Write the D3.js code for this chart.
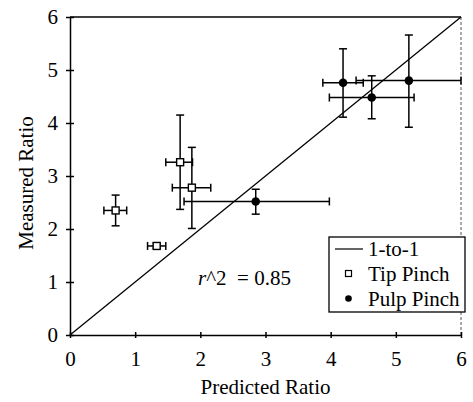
<!DOCTYPE html>
<html><head><meta charset="utf-8"><script src="https://cdn.jsdelivr.net/npm/d3@7"></script></head>
<body style="margin:0">
<script>
const width = 473, height = 402;
const margin = {top: 17, right: 12, bottom: 67, left: 70};
const serif = '"Liberation Serif"';

// tip pinch (open squares)
const tipX    = [0.70, 1.33, 1.69, 1.87];
const tipY    = [2.35, 1.68, 3.26, 2.78];
const tipXLo  = [0.52, 1.19, 1.47, 1.57];
const tipXHi  = [0.87, 1.47, 1.88, 2.16];
const tipYLo  = [2.06, 1.64, 2.37, 2.01];
const tipYHi  = [2.64, 1.73, 4.15, 3.54];

// pulp pinch (filled circles)
const pulpX   = [2.85, 4.19, 4.63, 5.20];
const pulpY   = [2.52, 4.76, 4.48, 4.80];
const pulpXLo = [1.75, 3.88, 3.98, 4.39];
const pulpXHi = [3.98, 4.50, 5.28, 6.00];
const pulpYLo = [2.28, 4.11, 4.08, 3.92];
const pulpYHi = [2.75, 5.40, 4.89, 5.66];

const ticks = [0, 1, 2, 3, 4, 5, 6];
const legendLabels = ["1-to-1", "Tip Pinch", "Pulp Pinch"];

const svg = d3.select("body").append("svg")
    .attr("width", width).attr("height", height)
    .style("font-family", serif);

const x = d3.scaleLinear().domain([0, 6]).range([margin.left, width - margin.right]);
const y = d3.scaleLinear().domain([0, 6]).range([height - margin.bottom, margin.top]);

// frame: top solid, right faint dashed
svg.append("line")
    .attr("x1", x(0)).attr("x2", x(6)).attr("y1", y(6)).attr("y2", y(6))
    .attr("stroke", "#000").attr("stroke-width", 1.5);
svg.append("line")
    .attr("x1", x(6)).attr("x2", x(6)).attr("y1", y(6)).attr("y2", y(0))
    .attr("stroke", "#555").attr("stroke-width", 1).attr("stroke-dasharray", "3,2");

// axes with crossing ticks
const xAxis = svg.append("g")
    .attr("transform", `translate(0,${y(0)})`)
    .call(d3.axisBottom(x).tickValues(ticks).tickSize(0).tickPadding(16).tickFormat(d3.format("d")))
    .attr("font-family", null).attr("font-size", null);
xAxis.select(".domain").attr("stroke-width", 1.5);
xAxis.selectAll(".tick").append("line").attr("y1", -3).attr("y2", 3).attr("stroke", "#000").attr("stroke-width", 1.5);

const yAxis = svg.append("g")
    .attr("transform", `translate(${x(0)},0)`)
    .call(d3.axisLeft(y).tickValues(ticks).tickSize(0).tickPadding(12).tickFormat(d3.format("d")))
    .attr("font-family", null).attr("font-size", null);
yAxis.select(".domain").attr("stroke-width", 1.5);
yAxis.selectAll(".tick").append("line").attr("x1", -4).attr("x2", 4).attr("stroke", "#000").attr("stroke-width", 1.5);

// axis titles
svg.append("text")
    .attr("x", (x(0) + x(6)) / 2).attr("y", 394)
    .attr("text-anchor", "middle")
    .text("Predicted Ratio");
svg.append("text")
    .attr("transform", `translate(33,183) rotate(-90)`)
    .attr("text-anchor", "middle")
    .text("Measured Ratio");

// 1-to-1 line
svg.append("line")
    .attr("x1", x(0)).attr("y1", y(0)).attr("x2", x(6)).attr("y2", y(6))
    .attr("stroke", "#000").attr("stroke-width", 1.3);

function errorBars(xs, ys, xlo, xhi, ylo, yhi) {
  const g = svg.append("g").attr("stroke", "#000").attr("stroke-width", 1.5);
  const cap = 4;
  xs.forEach((xv, i) => {
    g.append("line").attr("x1", x(xv)).attr("x2", x(xv)).attr("y1", y(ylo[i])).attr("y2", y(yhi[i]));
    g.append("line").attr("x1", x(xv) - cap).attr("x2", x(xv) + cap).attr("y1", y(ylo[i])).attr("y2", y(ylo[i]));
    g.append("line").attr("x1", x(xv) - cap).attr("x2", x(xv) + cap).attr("y1", y(yhi[i])).attr("y2", y(yhi[i]));
    g.append("line").attr("x1", x(xlo[i])).attr("x2", x(xhi[i])).attr("y1", y(ys[i])).attr("y2", y(ys[i]));
    g.append("line").attr("x1", x(xlo[i])).attr("x2", x(xlo[i])).attr("y1", y(ys[i]) - cap).attr("y2", y(ys[i]) + cap);
    g.append("line").attr("x1", x(xhi[i])).attr("x2", x(xhi[i])).attr("y1", y(ys[i]) - cap).attr("y2", y(ys[i]) + cap);
  });
}
errorBars(tipX, tipY, tipXLo, tipXHi, tipYLo, tipYHi);
errorBars(pulpX, pulpY, pulpXLo, pulpXHi, pulpYLo, pulpYHi);

svg.append("g").selectAll("rect")
    .data(tipX.map((d, i) => [d, tipY[i]]))
    .join("rect")
    .attr("x", d => x(d[0]) - 3.5).attr("y", d => y(d[1]) - 3.5)
    .attr("width", 7).attr("height", 7)
    .attr("fill", "#fff").attr("stroke", "#000").attr("stroke-width", 1.4);

svg.append("g").selectAll("circle")
    .data(pulpX.map((d, i) => [d, pulpY[i]]))
    .join("circle")
    .attr("cx", d => x(d[0])).attr("cy", d => y(d[1])).attr("r", 4.3)
    .attr("fill", "#000");

// r^2 annotation
const r2 = svg.append("text").attr("x", 198).attr("y", 285).style("white-space", "pre");
r2.append("tspan").style("font-style", "italic").text("r");
r2.append("tspan").text("^2  = 0.85");

// legend
const lg = svg.append("g");
lg.append("rect")
    .attr("x", 329).attr("y", 237).attr("width", 136).attr("height", 75)
    .attr("fill", "#fff").attr("stroke", "#000").attr("stroke-width", 1.3);
lg.append("line").attr("x1", 335).attr("x2", 363).attr("y1", 249).attr("y2", 249)
    .attr("stroke", "#000").attr("stroke-width", 1.2);
lg.append("rect").attr("x", 345.5).attr("y", 270.5).attr("width", 6).attr("height", 6)
    .attr("fill", "#fff").attr("stroke", "#000").attr("stroke-width", 1.2);
lg.append("circle").attr("cx", 348.5).attr("cy", 298.5).attr("r", 3.3).attr("fill", "#000");
lg.selectAll("text.lab").data(legendLabels).join("text")
    .attr("class", "lab")
    .attr("x", 368).attr("y", (d, i) => 256 + i * 25)
    .text(d => d);

// shared text styling
svg.selectAll("text")
    .style("font-family", serif)
    .style("font-size", "21px")
    .attr("fill", "#000");
</script>
</body></html>
